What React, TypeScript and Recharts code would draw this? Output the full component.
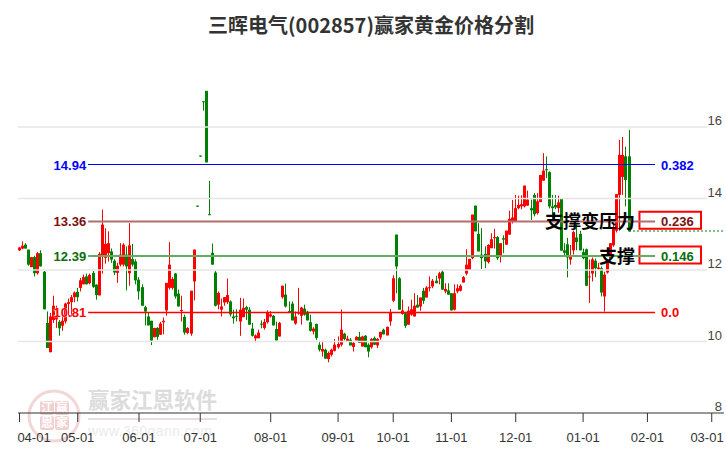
// 三晖电气 candlestick with gann gold-ratio levels
import { ComposedChart, Bar, XAxis, YAxis, ReferenceLine, ReferenceArea, Label } from 'recharts';

const opens = [
  12.55, 12.6, 12.71, 12.57, 12.08, 12.36, 11.91, 12.47, 11.95, 10.52, 9.7, 10.6, 10.62, 10.55, 10.44, 10.56, 11.05, 11.1, 11.24, 11.39,
  11.5, 11.6, 11.82, 11.63, 11.92, 11.59, 11.29, 12.38, 12.34, 12.47, 12.52, 12.26, 11.92, 12.15, 12.15, 12.43, 11.91, 12.31, 12.24, 11.73,
  11.52, 10.96, 10.7, 10.58, 10.12, 10.38, 10.19, 10.54, 10.87, 11.5, 11.5, 11.9, 11.34, 10.86, 10.69, 10.24, 10.22, 11.68, 13.8, 15.2,
  16.72, 17.01, 13.56, 12.48, 11.93, 11.03, 10.89, 11.09, 11.1, 11.12, 10.7, 10.72, 10.56, 10.68, 10.96, 10.89, 10.36, 10.09, 10.09, 10.5,
  10.38, 10.54, 10.7, 10.72, 10.35, 10.14, 11.24, 11.31, 10.85, 11.06, 10.5, 10.78, 10.72, 10.92, 10.83, 10.54, 10.28, 10.49, 9.91, 9.72,
  9.77, 9.51, 9.63, 9.74, 9.84, 9.91, 10.22, 10.0, 10.05, 9.85, 10.03, 10.13, 9.86, 10.16, 9.91, 9.84, 10.1, 9.89, 10.11, 10.33,
  10.17, 10.56, 11.14, 12.99, 11.77, 10.77, 10.79, 10.47, 10.75, 10.7, 11.03, 10.98, 11.42, 11.23, 11.49, 11.54, 11.7, 11.76, 11.95, 11.4,
  11.43, 11.35, 10.89, 11.4, 11.42, 11.65, 11.9, 12.0, 12.33, 13.8, 13.01, 12.43, 12.45, 12.22, 12.61, 12.89, 12.92, 12.38, 12.89, 12.71,
  12.99, 13.36, 13.36, 13.73, 13.78, 13.78, 13.8, 13.73, 14.1, 13.59, 13.9, 14.5, 14.82, 14.74, 13.78, 13.82, 13.73, 14.01, 12.55, 12.72,
  12.29, 12.55, 12.91, 13.01, 12.5, 12.58, 11.8, 11.9, 12.26, 12.03, 12.05, 11.26, 11.93, 12.33, 12.69, 13.1, 14.1, 14.6, 15.18, 15.18,
];
const highs = [
  12.64, 12.8, 12.75, 12.57, 12.36, 12.4, 12.5, 12.55, 11.98, 10.84, 10.8, 11.28, 11.0, 10.6, 10.8, 11.08, 11.2, 11.3, 11.4, 11.5,
  11.78, 11.87, 11.9, 11.9, 11.98, 11.6, 12.5, 13.69, 13.17, 13.08, 12.6, 12.3, 12.2, 12.75, 12.75, 12.66, 13.31, 12.73, 12.3, 11.8,
  11.6, 11.0, 10.8, 10.58, 10.38, 10.4, 10.55, 10.67, 11.64, 12.78, 11.8, 11.92, 11.45, 11.28, 10.75, 10.4, 11.42, 12.57, 13.8, 15.2,
  16.72, 17.01, 14.49, 12.74, 11.97, 11.4, 11.2, 11.24, 11.76, 11.15, 10.89, 10.9, 11.22, 11.2, 11.0, 10.96, 10.52, 10.2, 10.33, 10.59,
  10.63, 10.87, 10.85, 10.74, 10.56, 10.55, 11.56, 11.62, 11.12, 11.12, 10.84, 11.5, 10.97, 11.03, 10.86, 10.75, 10.4, 10.5, 10.02, 10.02,
  9.8, 9.72, 9.8, 10.07, 10.14, 10.89, 10.24, 10.16, 10.1, 10.0, 10.15, 10.27, 10.16, 10.18, 9.95, 10.1, 10.14, 10.1, 10.27, 10.36,
  10.42, 10.91, 11.85, 12.99, 11.8, 11.17, 10.83, 10.98, 11.17, 11.35, 11.3, 11.23, 11.5, 11.55, 11.82, 11.75, 11.84, 11.95, 12.0, 11.63,
  11.63, 11.35, 11.6, 11.6, 11.6, 11.83, 12.58, 12.31, 13.55, 13.8, 13.31, 13.17, 12.66, 12.72, 13.03, 13.15, 12.95, 12.75, 12.97, 13.1,
  13.66, 13.96, 14.1, 14.08, 14.09, 14.36, 14.22, 13.97, 14.15, 14.15, 14.66, 15.27, 15.18, 14.76, 14.1, 14.1, 14.08, 14.01, 12.75, 12.9,
  12.7, 13.1, 13.28, 13.1, 12.6, 12.6, 12.29, 12.35, 12.32, 12.2, 12.1, 11.95, 12.3, 12.75, 13.25, 14.12, 15.64, 15.72, 15.45, 15.92,
];
const lows = [
  12.53, 12.58, 12.6, 12.12, 12.08, 11.82, 11.87, 12.1, 10.9, 9.82, 9.7, 10.52, 10.38, 10.16, 10.3, 10.5, 10.7, 10.7, 11.1, 11.12,
  11.4, 11.6, 11.6, 11.6, 11.5, 11.17, 11.29, 11.9, 12.18, 12.24, 12.2, 11.86, 11.64, 12.1, 12.1, 11.43, 11.56, 12.1, 11.6, 11.17,
  11.0, 10.45, 10.45, 9.9, 10.12, 10.05, 10.19, 10.2, 10.72, 11.45, 11.45, 11.2, 10.98, 10.56, 10.19, 10.2, 10.16, 11.15, 13.77, 15.17,
  16.46, 15.01, 13.54, 12.15, 10.98, 10.9, 10.7, 11.0, 11.05, 10.7, 10.5, 10.56, 10.16, 10.68, 10.6, 10.47, 10.14, 9.98, 10.09, 10.37,
  10.33, 10.5, 10.67, 10.45, 10.03, 10.14, 11.2, 10.95, 10.8, 10.59, 10.47, 10.75, 10.47, 10.72, 10.59, 10.28, 10.2, 10.04, 9.72, 9.58,
  9.52, 9.42, 9.58, 9.72, 9.8, 9.86, 10.03, 10.0, 9.89, 9.72, 10.03, 9.96, 9.86, 9.84, 9.56, 9.8, 9.9, 9.82, 10.05, 10.2,
  10.17, 10.44, 11.1, 11.35, 10.89, 10.75, 10.38, 10.47, 10.72, 10.7, 10.95, 10.86, 11.05, 11.23, 11.4, 11.49, 11.63, 11.6, 11.45, 11.35,
  11.31, 10.87, 10.87, 11.35, 11.4, 11.65, 11.85, 12.0, 12.3, 13.08, 12.52, 12.03, 12.05, 12.18, 12.61, 12.6, 12.28, 12.21, 12.47, 12.7,
  12.99, 13.3, 13.35, 13.7, 13.7, 13.75, 13.8, 13.4, 13.5, 13.55, 13.9, 14.5, 14.57, 13.72, 13.4, 13.7, 13.6, 12.54, 12.4, 11.79,
  12.15, 12.43, 12.55, 12.55, 12.3, 11.55, 11.08, 11.68, 11.8, 12.0, 11.26, 10.84, 11.9, 12.3, 12.65, 13.05, 13.1, 14.1, 13.78, 13.08,
];
const closes = [
  12.63, 12.68, 12.6, 12.15, 12.36, 11.91, 12.47, 12.1, 10.9, 9.82, 10.7, 11.0, 10.7, 10.37, 10.58, 11.06, 11.1, 11.24, 11.37, 11.24,
  11.71, 11.8, 11.6, 11.86, 11.53, 11.3, 12.45, 13.27, 12.73, 12.75, 12.29, 11.93, 12.12, 12.43, 12.71, 12.1, 12.69, 12.15, 11.71, 11.4,
  11.0, 10.84, 10.45, 10.03, 10.38, 10.13, 10.5, 10.58, 11.64, 12.15, 11.75, 11.26, 10.98, 10.88, 10.25, 10.38, 11.42, 12.57, 13.78, 15.18,
  16.69, 15.01, 13.54, 12.15, 11.0, 11.36, 10.98, 11.24, 11.3, 10.76, 10.65, 10.7, 10.89, 10.94, 10.89, 10.47, 10.16, 10.17, 10.25, 10.48,
  10.55, 10.8, 10.76, 10.45, 10.03, 10.52, 11.56, 10.98, 10.82, 10.59, 10.7, 10.82, 10.95, 10.75, 10.59, 10.3, 10.36, 10.1, 9.77, 9.79,
  9.52, 9.68, 9.77, 9.91, 9.93, 10.33, 10.07, 10.08, 9.89, 9.96, 10.13, 9.96, 10.14, 9.84, 9.72, 10.07, 9.91, 10.07, 10.27, 10.2,
  10.41, 10.82, 11.77, 12.1, 10.89, 10.87, 10.44, 10.86, 10.9, 11.0, 10.95, 11.23, 11.14, 11.51, 11.52, 11.7, 11.63, 11.91, 11.45, 11.47,
  11.31, 10.87, 11.35, 11.49, 11.56, 11.8, 12.15, 12.31, 13.55, 13.08, 12.52, 12.33, 12.24, 12.7, 12.86, 12.92, 12.33, 12.75, 12.85, 13.1,
  13.43, 13.47, 13.73, 13.82, 13.84, 14.36, 13.97, 13.67, 13.56, 13.92, 14.66, 14.78, 14.79, 13.78, 13.73, 13.75, 13.89, 12.54, 12.48, 12.35,
  12.38, 13.06, 12.78, 12.55, 12.33, 11.56, 11.82, 12.3, 12.05, 12.07, 11.37, 11.87, 12.24, 12.75, 13.17, 14.12, 15.22, 15.22, 14.52, 13.08,
];

const monthTicks = [0, 19, 39, 59, 82, 104, 122, 141, 162, 184, 205, 226];
const monthLabels = ['04-01', '05-01', '06-01', '07-01', '08-01', '09-01', '10-01', '11-01', '12-01', '01-01', '02-01', '03-01'];
const priceTicks = [8, 10, 12, 14, 16];

const fibPrices = [14.94, 13.36, 12.39, 10.81];
const fibRatios = ['0.382', '0.236', '0.146', '0.0'];
const fibColors = ['#0000ff', '#b46e6e', '#62ad62', '#ff0000'];
const fibText = ['#0000ff', '#7b1010', '#0a6e0a', '#ff0000'];
const fibWidths = [1, 2, 2, 1.5];
const lastClose = 13.09;
const boxes = [
  { y1: 13.155, y2: 13.63 },
  { y1: 12.18, y2: 12.66 },
];

const rows = opens.map((o, i) => ({
  idx: i,
  open: o,
  close: closes[i],
  high: highs[i],
  low: lows[i],
  range: [lows[i], highs[i]],
}));

const UI_FONT = '"Liberation Sans", Arial, sans-serif';
const CJK_FONT = '"Noto Sans CJK SC", sans-serif';

// wick is the bar itself, body worked out from the bar's own px-per-yuan
function Candle(props: any) {
  const { x, y, width, height, payload } = props;
  const { open, close, high, low } = payload;
  const color = close >= open ? '#ff0000' : '#008000';
  const perUnit = height / (high - low);
  const top = y + (high - Math.max(open, close)) * perUnit;
  const bodyH = Math.max(1, Math.abs(close - open) * perUnit);
  const cx = Math.round(x + width / 2 - 0.5) + 0.5;
  return (
    <g>
      <line x1={cx} x2={cx} y1={y} y2={y + height} stroke={color} strokeWidth={1} />
      <rect x={cx - 1.5} y={top} width={3} height={bodyH} fill={color} />
    </g>
  );
}

function MonthTick({ x, y, payload }: any) {
  const cx = Math.min(Math.max(x, 34), 707);
  const label = monthLabels[monthTicks.indexOf(payload.value)];
  return (
    <text x={cx} y={y + 18} textAnchor="middle" fontSize={13} fontFamily={UI_FONT} fill="#333">
      {label}
    </text>
  );
}

function PriceTick({ x, y, payload }: any) {
  return (
    <text x={x} y={y - 2} textAnchor="end" fontSize={13} fontFamily={UI_FONT} fill="#444">
      {payload.value}
    </text>
  );
}

function Watermark() {
  return (
    <svg width={726} height={450} style={{ position: 'absolute', left: 0, top: 0 }}>
      <circle cx={54} cy={416} r={25} fill="none" stroke="#f3d6d6" strokeWidth={3} />
      <rect x={40} y={401} width={14} height={14} rx={2} fill="#f3d0d0" />
      <rect x={55} y={401} width={14} height={14} rx={2} fill="#f3d0d0" />
      <rect x={40} y={416} width={14} height={14} rx={2} fill="#f3d0d0" />
      <rect x={55} y={416} width={14} height={14} rx={2} fill="#f3d0d0" />
      <g fontFamily={CJK_FONT} fontSize={12} fontWeight={700} fill="#fff" textAnchor="middle">
        <text x={47} y={412}>江</text>
        <text x={62} y={412}>赢</text>
        <text x={47} y={427}>恩</text>
        <text x={62} y={427}>家</text>
      </g>
      <text x={88} y={408} fontFamily={CJK_FONT} fontSize={21.5} fontWeight={700} fill="#dcdcdc">赢家江恩软件</text>
      <rect x={88} y={418} width={129} height={2} fill="#ecdcdc" />
      <text x={88} y={436} fontFamily={UI_FONT} fontSize={14} letterSpacing={0.4} fill="#ebebeb">www.360gann.com</text>
    </svg>
  );
}

export default function App() {
  return (
    <div style={{ position: 'absolute', left: 0, top: 0, width: 726, height: 450, overflow: 'hidden', background: '#fff' }}>
      <Watermark />
      <div style={{ position: 'absolute', left: 0, top: 0 }}>
        <ComposedChart width={726} height={450} data={rows} margin={{ top: 55.5, right: 2, bottom: 0, left: 18 }}>
          <XAxis
            dataKey="idx"
            type="number"
            scale="linear"
            domain={[-0.5, 230]}
            ticks={monthTicks}
            interval={0}
            tick={<MonthTick />}
            tickSize={9}
            height={37}
            stroke="#333"
          />
          <YAxis
            orientation="right"
            mirror
            domain={[8, 18]}
            ticks={priceTicks}
            interval={0}
            axisLine={false}
            tickLine={false}
            tickSize={0}
            tick={<PriceTick />}
          />
          {priceTicks.slice(1).map((p) => (
            <ReferenceLine key={p} segment={[{ x: -0.5, y: p }, { x: 224.5, y: p }]} stroke="#e6e6e6" strokeWidth={1.5} />
          ))}
          <Bar dataKey="range" barSize={3} isAnimationActive={false} shape={<Candle />} />
          {fibPrices.map((p, i) => (
            <ReferenceLine
              key={p}
              segment={[{ x: 22.4, y: p }, { x: 207.5, y: p }]}
              stroke={fibColors[i]}
              strokeWidth={fibWidths[i]}
              shapeRendering={i === 0 ? 'crispEdges' : undefined}
            >
              <Label
                value={p.toFixed(2)}
                position="left"
                offset={2}
                fontSize={13}
                fontWeight={700}
                fontFamily={UI_FONT}
                fill={fibText[i]}
                stroke="#fff"
                strokeWidth={0.7}
                paintOrder="stroke"
              />
              <Label value={fibRatios[i]} position="right" offset={6} fontSize={13} fontWeight={700} fontFamily={UI_FONT} fill={fibText[i]} />
            </ReferenceLine>
          ))}
          <ReferenceLine segment={[{ x: 199, y: lastClose }, { x: 230, y: lastClose }]} stroke="#008000" strokeDasharray="2 2" />
          {boxes.map((b) => (
            <ReferenceArea key={b.y1} x1={202.4} x2={222.5} y1={b.y1} y2={b.y2} fill="none" stroke="#ff0000" strokeWidth={2} />
          ))}
        </ComposedChart>
      </div>
      <svg width={726} height={450} style={{ position: 'absolute', left: 0, top: 0, pointerEvents: 'none' }}>
        <text x={371} y={33} textAnchor="middle" fontFamily={CJK_FONT} fontSize={20} fontWeight={700} fill="#333">
          三晖电气(002857)赢家黄金价格分割
        </text>
        <g fontFamily={CJK_FONT} fontSize={18} fontWeight={700} fill="#000" textAnchor="end">
          <text x={635} y={228}>支撑变压力</text>
          <text x={635} y={263}>支撑</text>
        </g>
      </svg>
    </div>
  );
}
